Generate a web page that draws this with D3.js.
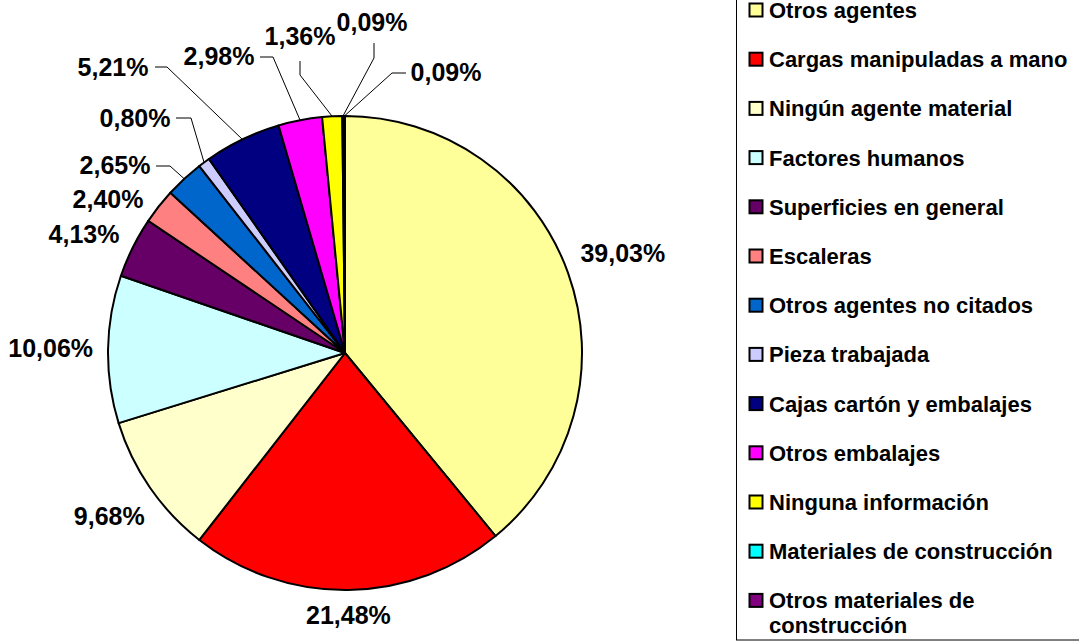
<!DOCTYPE html>
<html>
<head>
<meta charset="utf-8">
<script src="https://cdn.jsdelivr.net/npm/d3@7"></script>
<style>
  body { margin: 0; background: #fff; }
  svg { display: block; font-family: "Liberation Sans", Arial, sans-serif; font-weight: bold; }
</style>
</head>
<body>
<svg width="1079" height="641"></svg>
<script>
// data
var categories = ["Otros agentes", "Cargas manipuladas a mano", "Ningún agente material", "Factores humanos",
  "Superficies en general", "Escaleras", "Otros agentes no citados", "Pieza trabajada",
  "Cajas cartón y embalajes", "Otros embalajes", "Ninguna información", "Materiales de construcción",
  "Otros materiales de construcción"];
var values = [39.03, 21.48, 9.68, 10.06, 4.13, 2.40, 2.65, 0.80, 5.21, 2.98, 1.36, 0.09, 0.09];
var colors = ["#ffff99", "#ff0000", "#ffffcc", "#ccffff", "#660066", "#ff8080", "#0066cc", "#ccccff",
  "#000080", "#ff00ff", "#ffff00", "#00ffff", "#800080"];

// legend lines (last one wraps)
var legendLines = [["Otros agentes"], ["Cargas manipuladas a mano"], ["Ningún agente material"], ["Factores humanos"],
  ["Superficies en general"], ["Escaleras"], ["Otros agentes no citados"], ["Pieza trabajada"],
  ["Cajas cartón y embalajes"], ["Otros embalajes"], ["Ninguna información"], ["Materiales de construcción"],
  ["Otros materiales de", "construcción"]];

// labels moved by hand (like excel did), null = automatic
var labelMoved = [null, null, null, null, [84, 234], [108, 199], [115, 165], [135, 118], [113, 67], [219, 56], [300, 36], [372, 22], [446, 72]];
// leader line bends from label side, null = no leader
var leaderBend = [null, null, null, null, null, null,
  [[156, 166], [170, 166]], [[176, 118], [191, 118]], [[155, 67], [167, 67]], [[260, 57], [273, 57]],
  [[300, 61], [300, 75]], [[374, 43], [374, 58]], [[406, 73], [392, 73]]];

var svg = d3.select("svg");
var cx = 345, cy = 353, r = 237;

var es = d3.formatLocale({decimal: ",", thousands: ".", grouping: [3], currency: ["", " €"]});
var fmt = es.format(".2f");

var pie = d3.pie().sort(null).value(function(d) { return d; });
var arcs = pie(values);
var arc = d3.arc().innerRadius(0).outerRadius(r);

var g = svg.append("g").attr("transform", "translate(" + cx + "," + cy + ")");

g.selectAll("path.slice")
  .data(arcs)
  .enter()
  .append("path")
  .attr("class", "slice")
  .attr("d", arc)
  .attr("fill", function(d, i) { return colors[i]; })
  .attr("stroke", "#000")
  .attr("stroke-width", 2)
  .attr("stroke-linejoin", "round");

// leader lines
arcs.forEach(function(d, i) {
  if (!leaderBend[i]) return;
  var a = (d.startAngle + d.endAngle) / 2;
  var pts = leaderBend[i].map(function(p) { return [p[0] - cx, p[1] - cy]; });
  pts.push([r * Math.sin(a), -r * Math.cos(a)]);
  g.append("path")
    .attr("d", d3.line()(pts))
    .attr("fill", "none")
    .attr("stroke", "#000")
    .attr("stroke-width", 1);
});

// labels
var fs = 25;
arcs.forEach(function(d, i) {
  var txt = fmt(values[i]) + "%";
  var x, y;
  if (labelMoved[i]) {
    x = labelMoved[i][0] - cx;
    y = labelMoved[i][1] - cy;
  } else {
    var a = (d.startAngle + d.endAngle) / 2;
    var hw = txt.length * 0.55 * fs / 2 + 2, hh = 10;
    var dist = r + 14 + hw * Math.abs(Math.sin(a)) + hh * Math.abs(Math.cos(a));
    x = dist * Math.sin(a);
    y = -dist * Math.cos(a);
  }
  g.append("text")
    .attr("x", x)
    .attr("y", y)
    .attr("dy", "0.36em")
    .attr("text-anchor", "middle")
    .attr("font-size", fs)
    .attr("fill", "#000")
    .text(txt);
});

// legend
var legend = svg.append("g");
legend.append("rect")
  .attr("x", 736.5).attr("y", -5)
  .attr("width", 400).attr("height", 645)
  .attr("fill", "#fff")
  .attr("stroke", "#000")
  .attr("stroke-width", 1);

var row = d3.scaleLinear().domain([0, 1]).range([10, 59.2]);

categories.forEach(function(c, i) {
  var y = row(i);
  legend.append("rect")
    .attr("x", 749.5).attr("y", y - 6.5)
    .attr("width", 13).attr("height", 13)
    .attr("fill", colors[i])
    .attr("stroke", "#000")
    .attr("stroke-width", 2);
  legendLines[i].forEach(function(line, k) {
    legend.append("text")
      .attr("x", 769)
      .attr("y", y + k * 25)
      .attr("dy", "0.36em")
      .attr("font-size", 22)
      .attr("fill", "#000")
      .text(line);
  });
});
</script>
</body>
</html>
